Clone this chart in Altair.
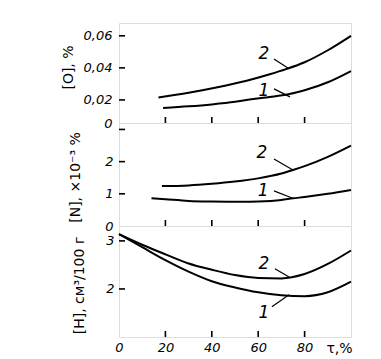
import altair as alt
import pandas as pd

# ---- data ----
# Panel 1: [O], %
o_tau_1 = [19, 30, 40, 50, 57, 65, 73, 80, 90, 100]
o_val_1 = [0.0150, 0.0160, 0.0172, 0.0188, 0.0204, 0.0218, 0.0235, 0.0260, 0.0310, 0.0380]
o_tau_2 = [17, 30, 43, 55, 65, 72, 80, 90, 100]
o_val_2 = [0.0215, 0.0245, 0.0281, 0.0320, 0.0360, 0.0392, 0.0435, 0.0510, 0.0600]

# Panel 2: [N], x10^-3 %
n_tau_1 = [14, 20, 30, 40, 53, 60, 70, 75, 80, 90, 100]
n_val_1 = [0.86, 0.83, 0.78, 0.76, 0.75, 0.76, 0.81, 0.86, 0.90, 1.00, 1.12]
n_tau_2 = [18.5, 30, 40, 50, 60, 70, 75, 80, 90, 100]
n_val_2 = [1.24, 1.26, 1.31, 1.38, 1.48, 1.63, 1.74, 1.86, 2.15, 2.50]

# Panel 3: [H], cm3/100 g
h_tau = [0, 10, 20, 30, 40, 50, 60, 70, 80, 90, 100]
h_val_1 = [3.14, 2.87, 2.60, 2.36, 2.16, 2.03, 1.93, 1.87, 1.85, 1.93, 2.15]
h_val_2 = [3.14, 2.92, 2.72, 2.53, 2.40, 2.29, 2.23, 2.22, 2.31, 2.52, 2.80]

x_ticks = [20, 40, 60, 80]
x_labels = [0, 20, 40, 60, 80]

# curve labels "1"/"2" and their leader lines (data coordinates)
o_ann = {"label": ["2", "1"], "tau": [62.5, 62.5], "v": [0.0487, 0.0256]}
o_lead = {"tau": [66.8, 66.8], "v": [0.0456, 0.0269], "tau2": [73.3, 73.7], "v2": [0.0394, 0.0219]}
n_ann = {"label": ["2", "1"], "tau": [61.6, 62.1], "v": [2.27, 1.09]}
n_lead = {"tau": [66.8, 66.8], "v": [2.08, 1.09], "tau2": [75.0, 74.6], "v2": [1.74, 0.87]}
h_ann = {"label": ["2", "1"], "tau": [62.5, 62.5], "v": [2.52, 1.49]}
h_lead = {"tau": [67.2, 65.9], "v": [2.42, 1.63], "tau2": [73.3, 73.3], "v2": [2.25, 1.88]}

FONT = "DejaVu Sans"
W = 232


def curves(t1, v1, t2, v2):
    return pd.DataFrame({
        "tau": list(t1) + list(t2),
        "v": list(v1) + list(v2),
        "s": ["1"] * len(t1) + ["2"] * len(t2),
    })


def panel(df, domain, yvals, label_expr, height, title, title_x, title_y,
          label_pad, ann, lead, ytick_vals, bottom=False):
    if bottom:
        xaxis = alt.Axis(values=x_labels, ticks=False, domain=False, grid=False,
                         labelFont=FONT, labelFontStyle="italic", labelFontSize=13,
                         labelColor="black", labelPadding=4, labelFlush=False,
                         title="τ,%", titleFont=FONT, titleFontSize=14,
                         titleFontWeight="normal", titleColor="black",
                         titleX=220, titleY=11, titleBaseline="middle",
                         titleAlign="center")
    else:
        xaxis = None
    yaxis = alt.Axis(values=yvals, labelExpr=label_expr, ticks=False, domain=False,
                     grid=False, labelFont=FONT, labelFontStyle="italic",
                     labelFontSize=13, labelColor="black", labelPadding=label_pad,
                     labelBaseline="middle",
                     title=title, titleFont=FONT, titleFontSize=14,
                     titleFontWeight="normal", titleColor="black",
                     titleAngle=270, titleX=title_x, titleY=title_y,
                     titleAlign="center", titleBaseline="middle")

    def X(f="tau"):
        return alt.X(f + ":Q", scale=alt.Scale(domain=[0, 100], nice=False, zero=False),
                     axis=xaxis)

    def Y(f="v"):
        return alt.Y(f + ":Q", scale=alt.Scale(domain=domain, nice=False, zero=False),
                     axis=yaxis)

    lines = alt.Chart(df).mark_line(color="black", strokeWidth=2,
                                    interpolate="monotone").encode(
        x=X(), y=Y(), detail="s:N")
    xt = alt.Chart(pd.DataFrame({"tau": x_ticks})).mark_rule(
        color="black", strokeWidth=1.6).encode(
        x=X(), y=alt.value(height), y2=alt.value(height - 6))
    yt = alt.Chart(pd.DataFrame({"v": ytick_vals})).mark_rule(
        color="black", strokeWidth=1.6).encode(
        y=Y(), x=alt.value(0), x2=alt.value(6))
    txt = alt.Chart(pd.DataFrame(ann)).mark_text(
        font=FONT, fontStyle="italic", fontSize=17, color="black").encode(
        x=X(), y=Y(), text="label:N")
    ld = alt.Chart(pd.DataFrame(lead)).mark_rule(
        color="black", strokeWidth=1.2).encode(
        x=X(), y=Y(), x2="tau2:Q", y2="v2:Q")
    return alt.layer(lines, xt, yt, ld, txt).properties(width=W, height=height)


p1 = panel(curves(o_tau_1, o_val_1, o_tau_2, o_val_2), [0.0056, 0.068],
           [0.0056, 0.02, 0.04, 0.06],
           "datum.value < 0.01 ? '0' : replace(format(datum.value, '.2f'), '.', ',')",
           100, "[O], %", -51, 44, 7, o_ann, o_lead, [0.02, 0.04, 0.06])
p2 = panel(curves(n_tau_1, n_val_1, n_tau_2, n_val_2), [0, 3.2],
           [0, 1, 2, 3], "datum.value == 3 ? '' : datum.label",
           103, "[N], ×10⁻³ %", -44, 54, 6, n_ann, n_lead, [1, 2, 3])
p3 = panel(curves(h_tau, h_val_1, h_tau, h_val_2), [1, 3.31],
           [2, 3], "datum.label",
           111, "[H], см³/100 г", -40, 59, 5, h_ann, h_lead, [2, 3], bottom=True)

chart = alt.vconcat(p1, p2, p3, spacing=0, bounds="flush").properties(
    padding={"left": 52, "top": 14, "right": 5, "bottom": 0}
).configure_view(stroke="black", strokeWidth=2).configure(background="white")

chart.save("out.html", embed_options={"renderer": "svg", "actions": False})
